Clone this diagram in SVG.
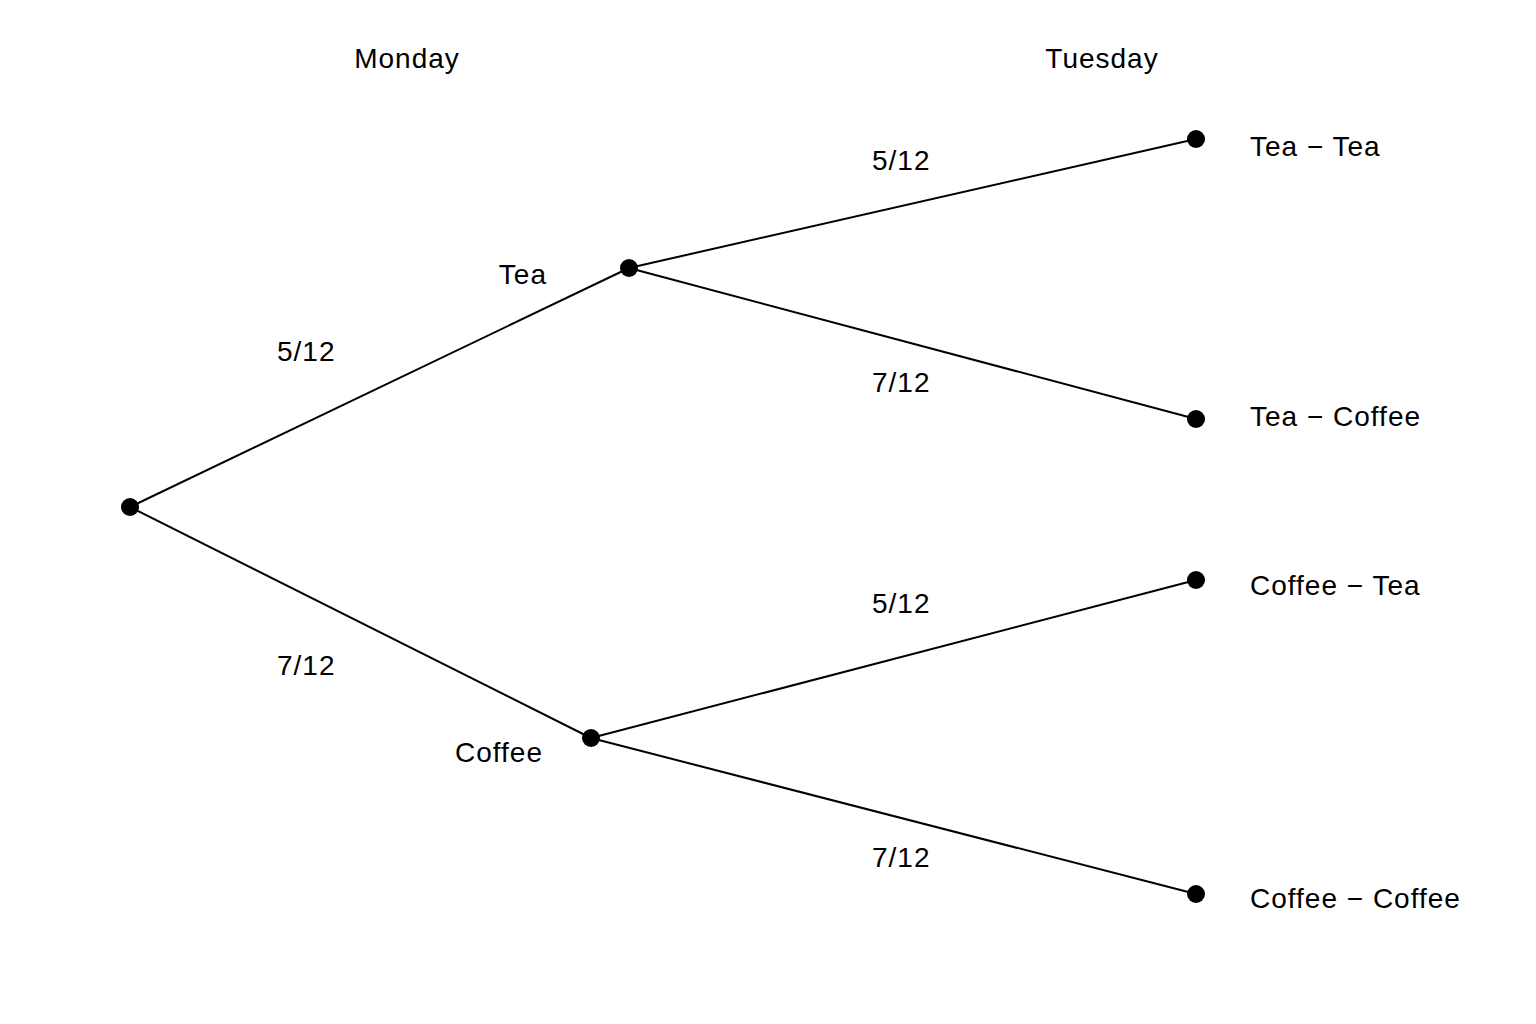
<svg xmlns="http://www.w3.org/2000/svg" width="1536" height="1024" viewBox="0 0 1536 1024">
<style>
text{font-family:"Liberation Sans",Arial,sans-serif;font-size:28px;fill:#000;letter-spacing:1px}
.e{stroke:#000;stroke-width:2;fill:none}
circle{fill:#000}
</style>
<rect width="1536" height="1024" fill="#fff"/>
<g id="headers"><text x="407" y="68" text-anchor="middle">Monday</text><text x="1102" y="68" text-anchor="middle">Tuesday</text></g>
<g id="connectors">
<line class="e" x1="130" y1="507" x2="629" y2="268"/>
<line class="e" x1="130" y1="507" x2="591" y2="738"/>
<line class="e" x1="629" y1="268" x2="1196" y2="139"/>
<line class="e" x1="629" y1="268" x2="1196" y2="419"/>
<line class="e" x1="591" y1="738" x2="1196" y2="580"/>
<line class="e" x1="591" y1="738" x2="1196" y2="894"/>
<text x="277" y="361">5/12</text><text x="277" y="675">7/12</text>
<text x="872" y="170">5/12</text><text x="872" y="392">7/12</text>
<text x="872" y="613">5/12</text><text x="872" y="867">7/12</text>
</g>
<g id="root"><circle cx="130" cy="507" r="9"/></g>
<g id="tea"><circle cx="629" cy="268" r="9"/><text x="547" y="284" text-anchor="end">Tea</text></g>
<g id="coffee"><circle cx="591" cy="738" r="9"/><text x="543" y="762" text-anchor="end">Coffee</text></g>
<g id="tt"><circle cx="1196" cy="139" r="9"/><text x="1250" y="156">Tea − Tea</text></g>
<g id="tc"><circle cx="1196" cy="419" r="9"/><text x="1250" y="426">Tea − Coffee</text></g>
<g id="ct"><circle cx="1196" cy="580" r="9"/><text x="1250" y="595">Coffee − Tea</text></g>
<g id="cc"><circle cx="1196" cy="894" r="9"/><text x="1250" y="908">Coffee − Coffee</text></g>
</svg>
